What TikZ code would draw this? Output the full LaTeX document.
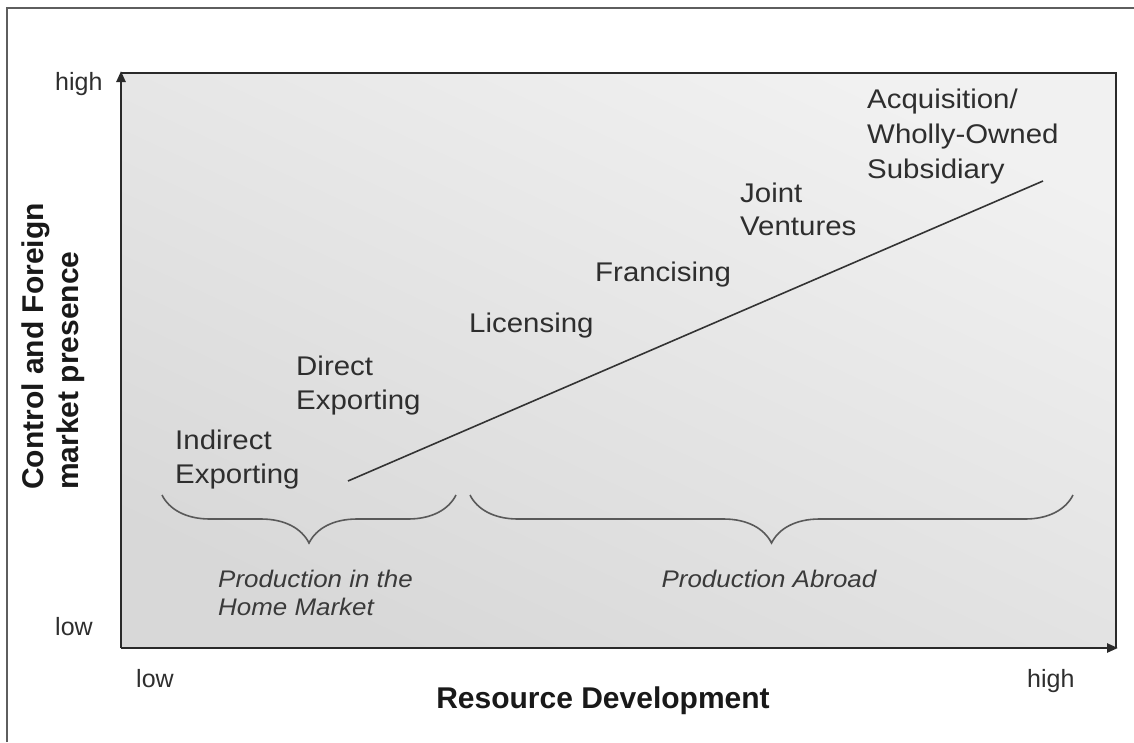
\documentclass[tikz,border=0pt]{standalone}
\usepackage{fontspec}
\setmainfont{Liberation Sans}
\usetikzlibrary{arrows.meta,decorations.pathreplacing}
\definecolor{framegray}{HTML}{5E5E5E}
\definecolor{boxline}{HTML}{2A2A2A}
\definecolor{labelgray}{HTML}{2E2E2E}
\definecolor{italgray}{HTML}{3A3A3A}
\definecolor{shadelight}{HTML}{F1F1F1}
\definecolor{shadedark}{HTML}{D8D8D8}
\begin{document}
\begin{tikzpicture}[x=1pt,y=-1pt,
  lbl/.style={font=\fontsize{27}{34}\selectfont, text=labelgray, inner sep=0pt, anchor=base west, xscale=1.09},
  ital/.style={font=\fontsize{24}{29}\selectfont\itshape, text=italgray, inner sep=0pt, anchor=base west, xscale=1.08},
  tick/.style={font=\fontsize{25}{30}\selectfont, text=labelgray, inner sep=0pt, anchor=base west},
  axtitle/.style={font=\fontsize{30}{36}\selectfont\bfseries, text=black!90, inner sep=0pt},
  bracestyle/.style={draw=black!65, line width=1.6pt, decorate, decoration={brace, amplitude=48pt, aspect=0.5}},
  axis/.style={draw=boxline, line width=2.4pt, -{Triangle[length=11pt,width=9pt]}},
  trend/.style={draw=black!80, line width=1.6pt}
]
\useasboundingbox (0,0) rectangle (1134,742);
% outer frame (top and left edges visible)
\draw[framegray, line width=2.5pt] (7,742) -- (7,8) -- (1134,8);
% plot area
\shade[shading=axis, top color=shadelight, bottom color=shadedark, shading angle=-25] (121,73) rectangle (1116,648);
\coordinate (O) at (121,648);
\coordinate (YT) at (121,71);
\coordinate (XR) at (1118,648);
\coordinate (TR) at (1116,73);
\draw[boxline, line width=2.4pt] (121,73) -- (TR) -- (1116,648);
\draw[axis] (O) -- (YT);
\draw[axis] (O) -- (XR);
% trend line
\coordinate (ls) at (348,481);
\coordinate (le) at (1043,181);
\draw[trend] (ls) -- (le);
% labels
\node[lbl] (acq1) at (867,108) {Acquisition/};
\node[lbl] (acq2) at (867,143) {Wholly-Owned};
\node[lbl] (acq3) at (867,178) {Subsidiary};
\node[lbl] (jv1) at (740,202) {Joint};
\node[lbl] (jv2) at (740,235) {Ventures};
\node[lbl] (fr) at (595,281) {Francising};
\node[lbl] (lic) at (469,332) {Licensing};
\node[lbl] (de1) at (296,375) {Direct};
\node[lbl] (de2) at (296,409) {Exporting};
\node[lbl] (ie1) at (175,449) {Indirect};
\node[lbl] (ie2) at (175,483) {Exporting};
% braces
\coordinate (b1l) at (162,495);
\coordinate (b1r) at (456,495);
\coordinate (b2l) at (470,495);
\coordinate (b2r) at (1073,495);
\draw[bracestyle] (b1r) -- (b1l);
\draw[bracestyle] (b2r) -- (b2l);
\node[ital] (ph1) at (218,587) {Production in the};
\node[ital] (ph2) at (218,615) {Home Market};
\node[ital, anchor=base] (pa) at (769,587) {Production Abroad};
% axis tick labels
\node[tick] (yhigh) at (55,90) {high};
\node[tick] (ylow) at (55,635) {low};
\node[tick] (xlow) at (136,687) {low};
\node[tick] (xhigh) at (1027,687) {high};
% axis titles
\node[axtitle, anchor=base] (xt) at (603,708) {Resource Development};
\node[axtitle, rotate=90, anchor=base west] (yt1) at (43,490) {Control and Foreign};
\node[axtitle, rotate=90, anchor=base west] (yt2) at (78,490) {market presence};
\end{tikzpicture}
\end{document}
